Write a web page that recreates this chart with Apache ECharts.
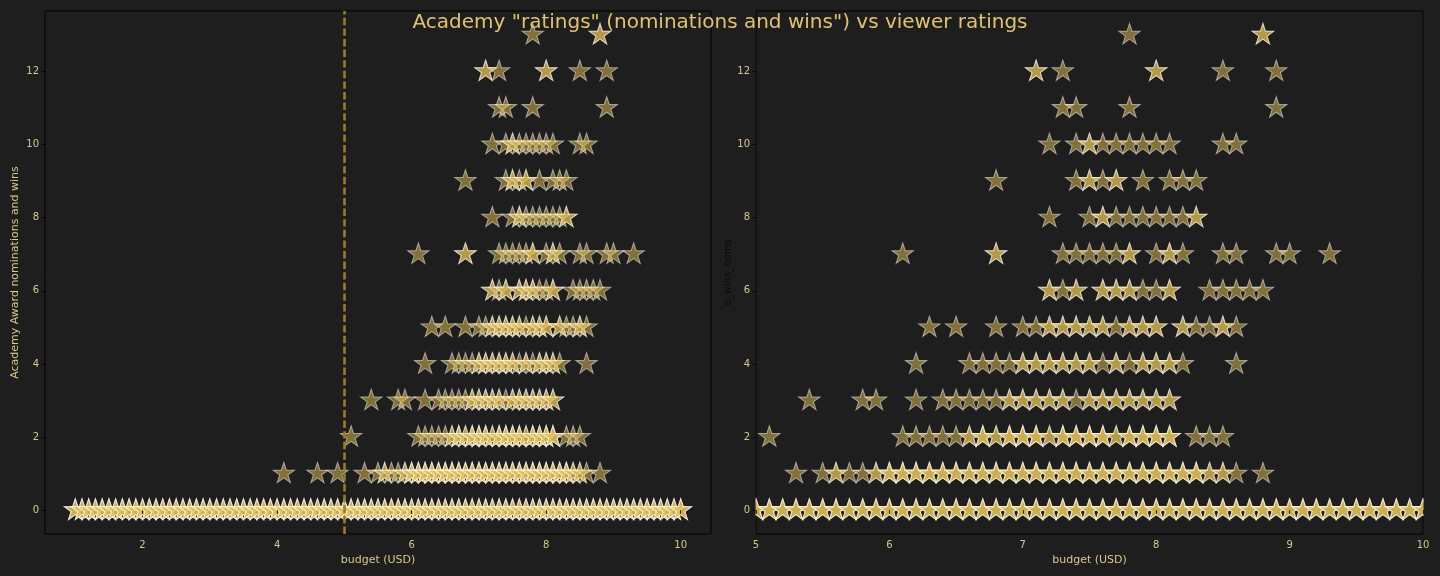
<!DOCTYPE html>
<html><head><meta charset="utf-8">
<script src="https://cdn.jsdelivr.net/npm/echarts@6/dist/echarts.min.js"></script>
<style>html,body{margin:0;padding:0;background:#1e1e1e;}#c{width:1440px;height:576px;}</style>
</head><body><div id="c"></div>
<script>
const titleText = 'Academy "ratings" (nominations and wins") vs viewer ratings';
const xLabel = 'budget (USD)';
const yLabelLeft = 'Academy Award nominations and wins';
const yLabelRight = 'o_wins_noms';
const budgetThreshold = 5;
const leftXTicks = [2, 4, 6, 8, 10];
const yTicks = [0, 2, 4, 6, 8, 10, 12];

// [rating, number of films] for each nominations+wins level
const level0 = [[1.0,3],[1.1,3],[1.2,3],[1.3,3],[1.4,3],[1.5,3],[1.6,3],[1.7,3],[1.8,3],[1.9,3],
  [2.0,3],[2.1,3],[2.2,3],[2.3,3],[2.4,3],[2.5,3],[2.6,3],[2.7,3],[2.8,3],[2.9,3],
  [3.0,3],[3.1,3],[3.2,3],[3.3,3],[3.4,3],[3.5,3],[3.6,3],[3.7,3],[3.8,3],[3.9,3],
  [4.0,3],[4.1,3],[4.2,3],[4.3,3],[4.4,3],[4.5,3],[4.6,3],[4.7,3],[4.8,3],[4.9,3],
  [5.0,3],[5.1,3],[5.2,3],[5.3,3],[5.4,3],[5.5,3],[5.6,3],[5.7,3],[5.8,3],[5.9,3],
  [6.0,3],[6.1,3],[6.2,3],[6.3,3],[6.4,3],[6.5,3],[6.6,3],[6.7,3],[6.8,3],[6.9,3],
  [7.0,3],[7.1,3],[7.2,3],[7.3,3],[7.4,3],[7.5,3],[7.6,3],[7.7,3],[7.8,3],[7.9,3],
  [8.0,3],[8.1,3],[8.2,3],[8.3,3],[8.4,3],[8.5,3],[8.6,3],[8.7,3],[8.8,3],[8.9,3],
  [9.0,3],[9.1,3],[9.2,3],[9.3,3],[9.4,3],[9.5,3],[9.6,3],[9.7,3],[9.8,3],[9.9,3],[10.0,3]];
const level1 = [[4.1,1],[4.6,1],[4.9,1],[5.3,1],[5.5,1],[5.6,2],[5.7,1],[5.8,1],[5.9,2],
  [6.0,3],[6.1,3],[6.2,3],[6.3,3],[6.4,3],[6.5,3],[6.6,3],[6.7,3],[6.8,3],[6.9,3],
  [7.0,3],[7.1,3],[7.2,3],[7.3,3],[7.4,3],[7.5,3],[7.6,3],[7.7,3],[7.8,3],[7.9,3],
  [8.0,3],[8.1,3],[8.2,3],[8.3,3],[8.4,2],[8.5,2],[8.6,1],[8.8,1]];
const level2 = [[5.1,1],[6.1,1],[6.2,1],[6.3,1],[6.4,1],[6.5,1],[6.6,2],[6.7,3],[6.8,2],[6.9,3],
  [7.0,3],[7.1,3],[7.2,2],[7.3,3],[7.4,3],[7.5,3],[7.6,3],[7.7,2],[7.8,3],[7.9,3],
  [8.0,3],[8.1,3],[8.3,1],[8.4,1],[8.5,1]];
const level3 = [[5.4,1],[5.8,1],[5.9,1],[6.2,1],[6.4,1],[6.5,1],[6.6,1],[6.7,1],[6.8,1],[6.9,2],
  [7.0,2],[7.1,2],[7.2,2],[7.3,2],[7.4,1],[7.5,2],[7.6,2],[7.7,2],[7.8,2],[7.9,2],[8.0,2],[8.1,2]];
const level4 = [[6.2,1],[6.6,1],[6.7,1],[6.8,1],[6.9,1],[7.0,2],[7.1,2],[7.2,2],[7.3,2],[7.4,2],
  [7.5,2],[7.6,1],[7.7,2],[7.8,1],[7.9,2],[8.0,2],[8.1,2],[8.2,1],[8.6,1]];
const level5 = [[6.3,1],[6.5,1],[6.8,1],[7.0,1],[7.1,1],[7.2,2],[7.3,2],[7.4,2],[7.5,2],[7.6,2],
  [7.7,1],[7.8,2],[7.9,2],[8.0,2],[8.2,2],[8.3,1],[8.4,1],[8.5,2],[8.6,1]];
const level6 = [[7.2,2],[7.3,1],[7.4,2],[7.6,2],[7.7,2],[7.8,2],[7.9,1],[8.0,1],[8.1,2],
  [8.4,1],[8.5,1],[8.6,1],[8.7,1],[8.8,1]];
const level7 = [[6.1,1],[6.8,2],[7.3,1],[7.4,1],[7.5,1],[7.6,1],[7.7,1],[7.8,2],[8.0,1],[8.1,2],
  [8.2,1],[8.5,1],[8.6,1],[8.9,1],[9.0,1],[9.3,1]];
const level8 = [[7.2,1],[7.5,1],[7.6,2],[7.7,1],[7.8,1],[7.9,1],[8.0,1],[8.1,1],[8.2,1],[8.3,2]];
const level9 = [[6.8,1],[7.4,1],[7.5,2],[7.6,1],[7.7,2],[7.9,1],[8.1,1],[8.2,1],[8.3,1]];
const level10 = [[7.2,1],[7.4,1],[7.5,2],[7.6,1],[7.7,1],[7.8,1],[7.9,1],[8.0,1],[8.1,1],[8.5,1],[8.6,1]];
const level11 = [[7.3,1],[7.4,1],[7.8,1],[8.9,1]];
const level12 = [[7.1,2],[7.3,1],[8.0,2],[8.5,1],[8.9,1]];
const level13 = [[7.8,1],[8.8,2]];

const levels = [level0, level1, level2, level3, level4, level5, level6, level7, level8, level9, level10, level11, level12, level13];

const points = [];
levels.forEach((lv, y) => lv.forEach(([r, n]) => { for (let i = 0; i < n; i++) points.push([r, y]); }));

const starPath = 'path://M100,0 L77.55,69.1 L4.89,69.1 L63.67,111.8 L41.22,180.9 L100,138.2 L158.78,180.9 L136.33,111.8 L195.11,69.1 L122.45,69.1 Z';

const FONT = 'DejaVu Sans';
const TICK_COLOR = '#d9c68e';
const GOLD = '#e6c154';

const chart = echarts.init(document.getElementById('c'), null, {renderer: 'canvas'});

function yAxisCfg(idx, name, nameColor, nameSize, gap) {
  return {
    type: 'value', gridIndex: idx, min: -0.65, max: 13.65, z: 10,
    name: name, nameLocation: 'middle', nameGap: gap, nameRotate: 90,
    nameTextStyle: {color: nameColor, fontSize: nameSize, fontFamily: FONT},
    axisLine: {show: false},
    axisTick: {show: true, customValues: yTicks, length: 3.5, lineStyle: {color: '#000', width: 0.8}},
    axisLabel: {customValues: yTicks, color: TICK_COLOR, fontSize: 10, fontFamily: FONT, margin: 6},
    splitLine: {show: false}
  };
}

const scatterBase = {
  type: 'scatter', symbol: starPath, symbolSize: [21.5, 20.45], symbolOffset: [0, -1.08],
  silent: true, animation: false, z: 2,
  itemStyle: {color: GOLD, opacity: 0.5, borderColor: '#ffffff', borderWidth: 1},
  data: points
};

chart.setOption({
  backgroundColor: '#1e1e1e',
  animation: false,
  title: {text: titleText, left: 'center', top: 8, z: 12,
    textStyle: {color: '#e0c46a', fontSize: 20, fontWeight: 'normal', fontFamily: FONT}},
  grid: [
    {left: 45, top: 11, width: 666, height: 523, show: true, borderColor: '#000', borderWidth: 1, backgroundColor: 'transparent'},
    {left: 756, top: 11, width: 667, height: 523, show: true, borderColor: '#000', borderWidth: 1, backgroundColor: 'transparent'}
  ],
  xAxis: [
    {type: 'value', gridIndex: 0, min: 0.55, max: 10.45, z: 10,
      name: xLabel, nameLocation: 'middle', nameGap: 20,
      nameTextStyle: {color: TICK_COLOR, fontSize: 11, fontFamily: FONT},
      axisLine: {show: false},
      axisTick: {show: true, customValues: leftXTicks, length: 3.5, lineStyle: {color: '#000', width: 0.8}},
      axisLabel: {customValues: leftXTicks, color: TICK_COLOR, fontSize: 10, fontFamily: FONT, margin: 6},
      splitLine: {show: false}},
    {type: 'value', gridIndex: 1, min: 5, max: 10, interval: 1, z: 10,
      name: xLabel, nameLocation: 'middle', nameGap: 20,
      nameTextStyle: {color: TICK_COLOR, fontSize: 11, fontFamily: FONT},
      axisLine: {show: false},
      axisTick: {show: true, length: 3.5, lineStyle: {color: '#000', width: 0.8}},
      axisLabel: {color: TICK_COLOR, fontSize: 10, fontFamily: FONT, margin: 6, showMinLabel: true, showMaxLabel: true},
      splitLine: {show: false}}
  ],
  yAxis: [
    yAxisCfg(0, yLabelLeft, TICK_COLOR, 11, 24),
    yAxisCfg(1, yLabelRight, '#0a0a0a', 10, 23)
  ],
  graphic: [
    {type: 'rect', z: 5, silent: true, shape: {x: 712.5, y: 0, width: 43, height: 576}, style: {fill: '#1e1e1e'}},
    {type: 'rect', z: 5, silent: true, shape: {x: 1423.6, y: 0, width: 20, height: 576}, style: {fill: '#1e1e1e'}}
  ],
  series: [
    Object.assign({}, scatterBase, {xAxisIndex: 0, yAxisIndex: 0}),
    Object.assign({}, scatterBase, {xAxisIndex: 1, yAxisIndex: 1}),
    {type: 'line', xAxisIndex: 0, yAxisIndex: 0, data: [], z: 4, silent: true,
      markLine: {silent: true, symbol: ['none', 'none'], label: {show: false}, animation: false,
        lineStyle: {color: '#9c7b22', width: 2.6, type: [7.4, 3.2], opacity: 1},
        data: [{xAxis: budgetThreshold}]}}
  ]
});
</script></body></html>
